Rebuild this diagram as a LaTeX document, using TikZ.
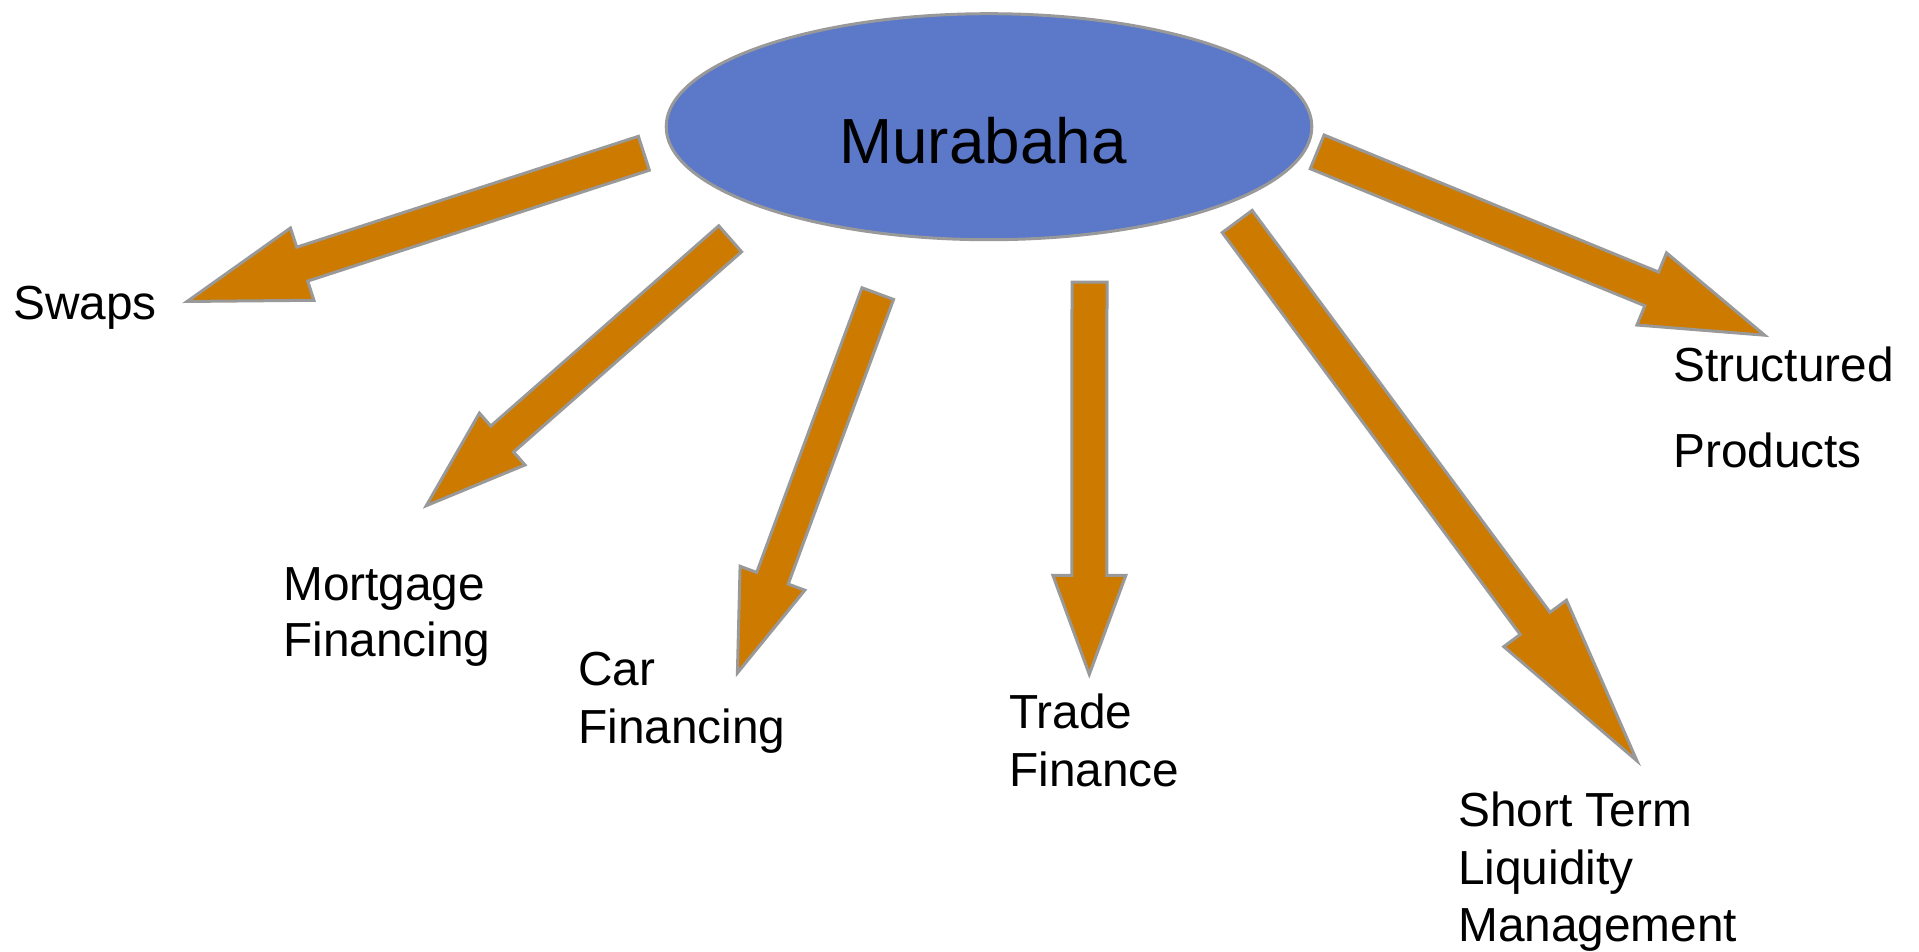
\documentclass[tikz,border=0pt]{standalone}
\usepackage{fontspec}
\setmainfont{Liberation Sans}
\usetikzlibrary{calc,shapes.geometric}
\definecolor{arrowfill}{RGB}{204,122,0}
\definecolor{ellfill}{RGB}{91,120,201}
\definecolor{edgegray}{RGB}{153,153,153}
\tikzset{
  barrow/.style={fill=arrowfill, draw=edgegray, line width=3pt, line join=miter},
  lbl/.style={anchor=base west, inner sep=0pt, font=\fontsize{47.8}{56}\selectfont},
}
\newcommand\bkarrow[5]{%
  \coordinate (ba-t) at ($(#1)!1.5pt!(#2)$);
  \coordinate (ba-p) at ($(#2)!4pt!(#1)$);
  \coordinate (ba-h) at ($(ba-p)!#5!(ba-t)$);
  \filldraw[barrow] ($(ba-t)!#3!90:(ba-p)$) -- ($(ba-h)!#3!90:(ba-p)$) -- ($(ba-h)!#4!90:(ba-p)$) -- (ba-p)
     -- ($(ba-h)!#4!-90:(ba-p)$) -- ($(ba-h)!#3!-90:(ba-p)$) -- ($(ba-t)!#3!-90:(ba-p)$) -- cycle;
}
\begin{document}
\begin{tikzpicture}[x=1pt,y=-1pt]
\useasboundingbox (0,0) rectangle (1919,951);
\fill[white] (0,0) rectangle (1919,951);

% central ellipse
\node[ellipse, draw=edgegray, fill=ellfill, line width=3pt, minimum width=645.6pt, minimum height=226pt, inner sep=0pt] (mur) at (989,126.7) {};
\node[inner sep=0pt, font=\fontsize{63.8}{70}\selectfont] (murlabel) at (983,141) {Murabaha};

% arrow ends
\coordinate (swT) at (645.3,152.8);   \coordinate (swP) at (183.3,302.7);
\coordinate (moT) at (731.3,237.8);   \coordinate (moP) at (423.3,508.3);
\coordinate (caT) at (878.3,292.2);   \coordinate (caP) at (736,676.7);
\coordinate (trT) at (1089.5,280.7);  \coordinate (trP) at (1089.3,678.3);
\coordinate (liT) at (1236.3,220.3);  \coordinate (liP) at (1639.3,764);
\coordinate (stT) at (1315.8,151.3);  \coordinate (stP) at (1768.3,336.7);

\bkarrow{swT}{swP}{17.8pt}{38pt}{121pt}
\bkarrow{moT}{moP}{17.3pt}{34.5pt}{101pt}
\bkarrow{caT}{caP}{16.8pt}{34.5pt}{101pt}
\bkarrow{trT}{trP}{17.5pt}{36.5pt}{99pt}
\bkarrow{liT}{liP}{18.6pt}{39pt}{171pt}
\bkarrow{stT}{stP}{18.2pt}{39pt}{122pt}

% labels
\node[lbl] (swaps) at (13,319) {Swaps};
\node[lbl] (mort1) at (283,600) {Mortgage};
\node[lbl] (mort2) at (283,656) {Financing};
\node[lbl] (car1) at (578,685) {Car};
\node[lbl] (car2) at (578,743) {Financing};
\node[lbl] (trade1) at (1009,728) {Trade};
\node[lbl] (trade2) at (1009,786) {Finance};
\node[lbl] (short1) at (1458,826) {Short Term};
\node[lbl] (short2) at (1458,884) {Liquidity};
\node[lbl] (short3) at (1458,941) {Management};
\node[lbl] (struct1) at (1673,381) {Structured};
\node[lbl] (struct2) at (1673,467.5) {Products};
\end{tikzpicture}
\end{document}
